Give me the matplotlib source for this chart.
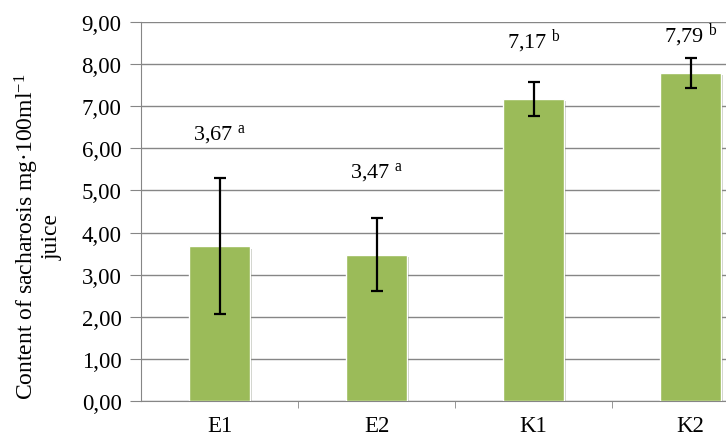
import matplotlib.pyplot as plt
import matplotlib.patheffects as pe
from matplotlib.ticker import FixedLocator, FuncFormatter

# data
groups = ["E1", "E2", "K1", "K2"]
means = [3.67, 3.47, 7.17, 7.79]
err_low = [2.07, 2.61, 6.77, 7.43]
err_high = [5.30, 4.35, 7.58, 8.15]
letters = ["a", "a", "b", "b"]
label_y = [6.34, 5.44, 8.55, 8.69]

plt.rcParams['font.family'] = ['Liberation Serif', 'DejaVu Serif']
plt.rcParams['mathtext.fontset'] = 'custom'
plt.rcParams['mathtext.rm'] = 'Liberation Serif'
plt.rcParams['mathtext.it'] = 'Liberation Serif:italic'

fig = plt.figure(figsize=(7.26, 4.39), dpi=100)
# axes spill over the right edge like the cropped original
ax = fig.add_axes([141 / 726, 37 / 439, 628 / 726, 379 / 439])

x = list(range(len(groups)))
yerr = [[m - lo for m, lo in zip(means, err_low)],
        [hi - m for m, hi in zip(means, err_high)]]

bars = ax.bar(x, means, width=0.39, color="#9BBB59", edgecolor="white",
              linewidth=1.0, zorder=3)
for b in bars:
    b.set_path_effects([pe.SimplePatchShadow(offset=(1.5, -1.5), alpha=0.25),
                        pe.Normal()])
ax.errorbar(x, means, yerr=yerr, fmt="none", ecolor="black", elinewidth=1.6,
            capsize=4.3, capthick=1.6, zorder=4)

for xi, m, let, ly in zip(x, means, letters, label_y):
    txt = f"{m:.2f}".replace(".", ",")
    ax.text(xi, ly, rf"{txt} $^{{\mathrm{{{let}}}}}$", ha="center", va="center",
            fontsize=16, color="black")

ax.set_xlim(-0.5, len(groups) - 0.5)
ax.set_ylim(0, 9)
ax.set_yticks(range(0, 10))
ax.yaxis.set_major_formatter(FuncFormatter(lambda v, p: f"{v:.2f}".replace(".", ",")))
ax.tick_params(axis="y", labelsize=16.5, length=8, color="#868686", pad=6)

ax.set_xticks(x)
ax.set_xticklabels(groups, fontsize=16.5)
ax.tick_params(axis="x", length=0, pad=10)
ax.xaxis.set_minor_locator(FixedLocator([0.5, 1.5, 2.5]))
ax.tick_params(axis="x", which="minor", length=5, color="#868686")

ax.grid(axis="y", color="#868686", linewidth=1.0, zorder=0)
ax.set_axisbelow(True)
for s in ["top", "right"]:
    ax.spines[s].set_visible(False)
for s in ["left", "bottom"]:
    ax.spines[s].set_color("#868686")

# y label placed in figure coords (left edge near the image border)
fig.text(13 / 726, 202 / 439, "Content of sacharosis mg·100ml$^{-1}$\njuice",
         rotation=90, ha="left", va="center", multialignment="center",
         fontsize=17, linespacing=1.0)

fig.savefig("out.png", dpi=100)
